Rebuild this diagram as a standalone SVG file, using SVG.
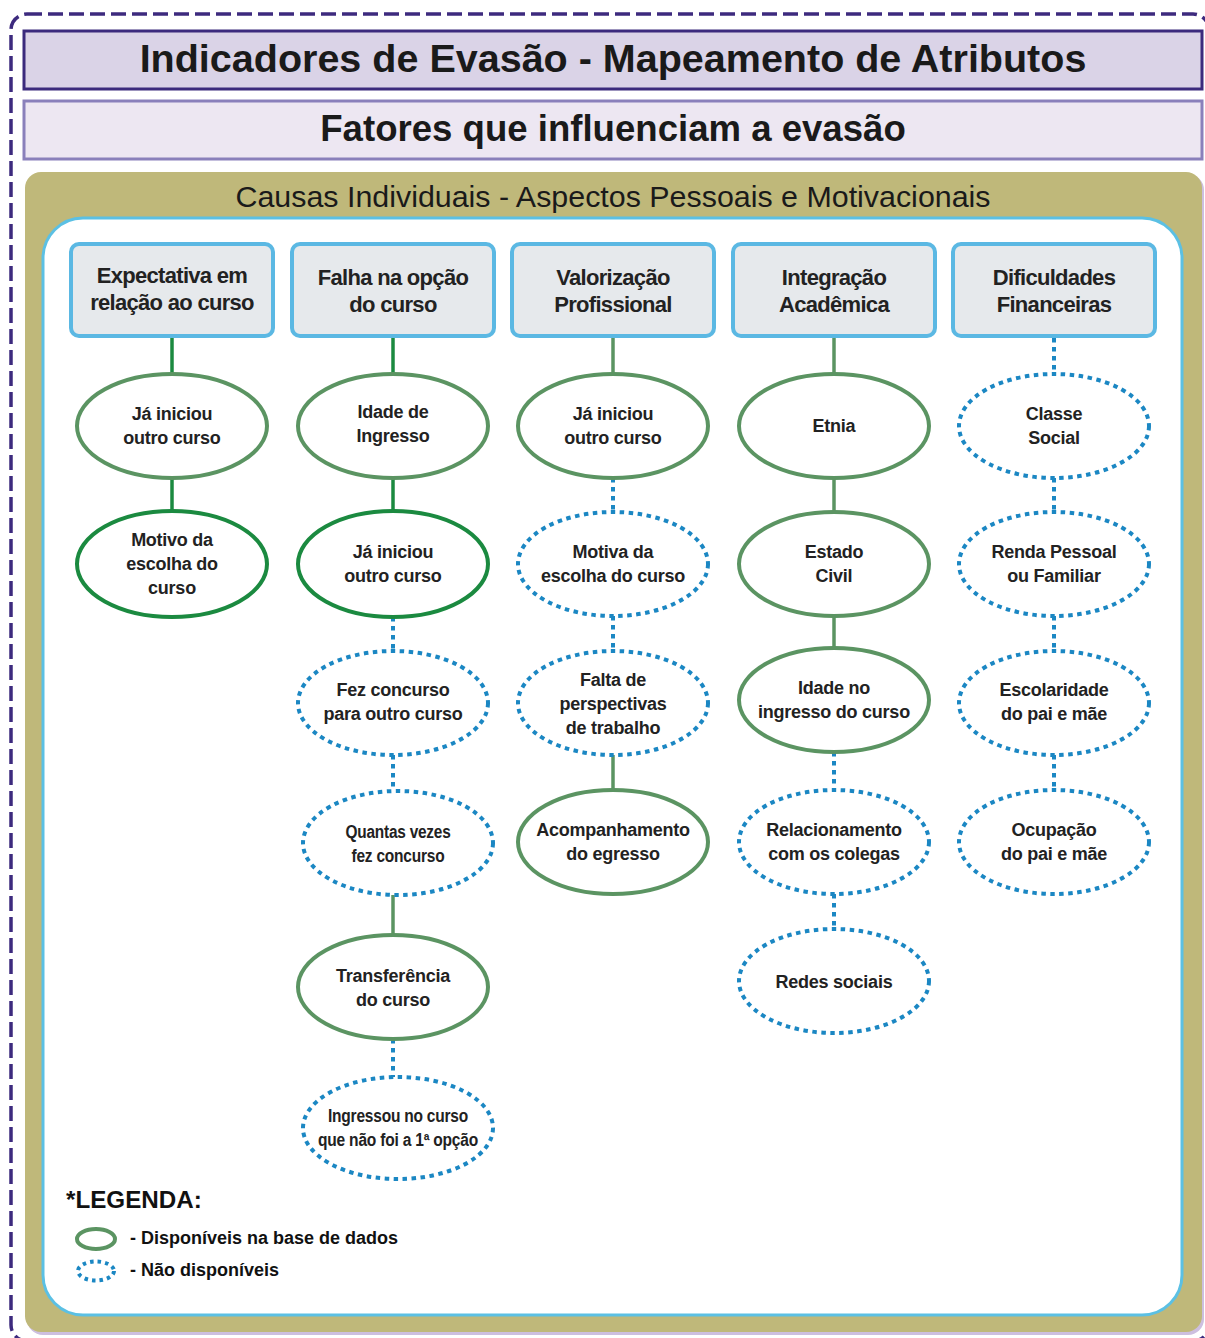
<svg xmlns="http://www.w3.org/2000/svg" width="1205" height="1338" viewBox="0 0 1205 1338">
  <defs>
    <style>
      .frame { fill: none; stroke: #3d2a7e; stroke-width: 3.5; stroke-dasharray: 15 6; }
      .title { font-family: "Liberation Sans", Arial, sans-serif; font-weight: bold; fill: #1a1a1a; text-anchor: middle; }
      .group-title { font-family: "Liberation Sans", Arial, sans-serif; fill: #1a1a1a; text-anchor: middle; font-size: 30.4px; }
      .head rect { fill: #e6e9ec; stroke: #5bb8e3; stroke-width: 4; }
      .head text { font-family: "Liberation Sans", Arial, sans-serif; font-weight: bold; font-size: 22px; letter-spacing: -0.7px; fill: #222; text-anchor: middle; dominant-baseline: central; }
      .node text { font-family: "Liberation Sans", Arial, sans-serif; font-weight: bold; font-size: 18px; letter-spacing: -0.25px; fill: #222; text-anchor: middle; dominant-baseline: central; }
      .node ellipse { fill: #ffffff; }
      .avail ellipse { stroke: #5b9462; stroke-width: 4; }
      .avail.strong ellipse { stroke: #1b8a40; }
      .missing ellipse { stroke: #1b87c3; stroke-width: 4; stroke-dasharray: 4.5 4.5; }
      .solid { stroke: #5b9462; stroke-width: 3.5; }
      .solid.strong { stroke: #1b8a40; }
      .dotted { stroke: #1b87c3; stroke-width: 4; stroke-dasharray: 4.5 4.5; }
      .legend { font-family: "Liberation Sans", Arial, sans-serif; font-weight: bold; fill: #111; }
    </style>
  </defs>

  <!-- outer dashed frame (right and bottom edges run past the canvas) -->
  <rect class="frame" x="11" y="14" width="1198" height="1327" rx="16"/>

  <!-- header bands -->
  <g id="title">
    <rect x="24" y="31" width="1178" height="58" fill="#dad3e7" stroke="#3b2a7d" stroke-width="3"/>
    <text class="title" x="613" y="72" font-size="39.5">Indicadores de Evasão - Mapeamento de Atributos</text>
  </g>
  <g id="subtitle">
    <rect x="24" y="101" width="1178" height="58" fill="#ede7f2" stroke="#8a80bb" stroke-width="3"/>
    <text class="title" x="613" y="141" font-size="36.6">Fatores que influenciam a evasão</text>
  </g>

  <!-- group container -->
  <g id="group">
    <rect x="27" y="174" width="1177" height="1161" rx="16" fill="#cdbfe0"/>
    <rect x="25" y="172" width="1177" height="1160" rx="16" fill="#bfb87a"/>
    <text class="group-title" x="613" y="207">Causas Individuais - Aspectos Pessoais e Motivacionais</text>
    <rect x="43" y="218" width="1139" height="1097" rx="40" fill="#ffffff" stroke="#5bc0e4" stroke-width="3"/>
  </g>

  <!-- connectors -->
  <g id="connectors">
    <!-- column 1 -->
    <line class="solid strong" x1="172" y1="338" x2="172" y2="374"/>
    <line class="solid strong" x1="172" y1="478" x2="172" y2="511"/>
    <!-- column 2 -->
    <line class="solid strong" x1="393" y1="338" x2="393" y2="374"/>
    <line class="solid strong" x1="393" y1="478" x2="393" y2="511"/>
    <line class="dotted" x1="393" y1="617" x2="393" y2="651"/>
    <line class="dotted" x1="393" y1="755" x2="393" y2="791"/>
    <line class="solid" x1="393" y1="895" x2="393" y2="935"/>
    <line class="dotted" x1="393" y1="1039" x2="393" y2="1077"/>
    <!-- column 3 -->
    <line class="solid" x1="613" y1="338" x2="613" y2="374"/>
    <line class="dotted" x1="613" y1="478" x2="613" y2="512"/>
    <line class="dotted" x1="613" y1="616" x2="613" y2="651"/>
    <line class="solid" x1="613" y1="755" x2="613" y2="790"/>
    <!-- column 4 -->
    <line class="solid" x1="834" y1="338" x2="834" y2="374"/>
    <line class="solid" x1="834" y1="478" x2="834" y2="512"/>
    <line class="solid" x1="834" y1="616" x2="834" y2="648"/>
    <line class="dotted" x1="834" y1="752" x2="834" y2="790"/>
    <line class="dotted" x1="834" y1="894" x2="834" y2="929"/>
    <!-- column 5 -->
    <line class="dotted" x1="1054" y1="338" x2="1054" y2="374"/>
    <line class="dotted" x1="1054" y1="478" x2="1054" y2="512"/>
    <line class="dotted" x1="1054" y1="616" x2="1054" y2="651"/>
    <line class="dotted" x1="1054" y1="755" x2="1054" y2="790"/>
  </g>

  <!-- category headers -->
  <g id="h-expectativa" class="head">
    <rect x="71" y="244" width="202" height="92" rx="8"/>
    <text x="172" y="275">Expectativa em</text>
    <text x="172" y="302">relação ao curso</text>
  </g>
  <g id="h-falha" class="head">
    <rect x="292" y="244" width="202" height="92" rx="8"/>
    <text x="393" y="277">Falha na opção</text>
    <text x="393" y="304">do curso</text>
  </g>
  <g id="h-valorizacao" class="head">
    <rect x="512" y="244" width="202" height="92" rx="8"/>
    <text x="613" y="277">Valorização</text>
    <text x="613" y="304">Profissional</text>
  </g>
  <g id="h-integracao" class="head">
    <rect x="733" y="244" width="202" height="92" rx="8"/>
    <text x="834" y="277">Integração</text>
    <text x="834" y="304">Acadêmica</text>
  </g>
  <g id="h-dificuldades" class="head">
    <rect x="953" y="244" width="202" height="92" rx="8"/>
    <text x="1054" y="277">Dificuldades</text>
    <text x="1054" y="304">Financeiras</text>
  </g>

  <!-- column 1 -->
  <g id="c1-ja-iniciou" class="node avail">
    <ellipse cx="172" cy="426" rx="95" ry="52"/>
    <text x="172" y="414">Já iniciou</text>
    <text x="172" y="438">outro curso</text>
  </g>
  <g id="c1-motivo" class="node avail strong">
    <ellipse cx="172" cy="564" rx="95" ry="53"/>
    <text x="172" y="540">Motivo da</text>
    <text x="172" y="564">escolha do</text>
    <text x="172" y="588">curso</text>
  </g>

  <!-- column 2 -->
  <g id="c2-idade" class="node avail">
    <ellipse cx="393" cy="426" rx="95" ry="52"/>
    <text x="393" y="412">Idade de</text>
    <text x="393" y="436">Ingresso</text>
  </g>
  <g id="c2-ja-iniciou" class="node avail strong">
    <ellipse cx="393" cy="564" rx="95" ry="53"/>
    <text x="393" y="552">Já iniciou</text>
    <text x="393" y="576">outro curso</text>
  </g>
  <g id="c2-fez-concurso" class="node missing">
    <ellipse cx="393" cy="703" rx="95" ry="52"/>
    <text x="393" y="690">Fez concurso</text>
    <text x="393" y="714">para outro curso</text>
  </g>
  <g id="c2-quantas-vezes" class="node missing">
    <ellipse cx="398" cy="843" rx="95" ry="52"/>
    <text x="398" y="832" textLength="105" lengthAdjust="spacingAndGlyphs">Quantas vezes</text>
    <text x="398" y="856" textLength="93" lengthAdjust="spacingAndGlyphs">fez concurso</text>
  </g>
  <g id="c2-transferencia" class="node avail">
    <ellipse cx="393" cy="987" rx="95" ry="52"/>
    <text x="393" y="976">Transferência</text>
    <text x="393" y="1000">do curso</text>
  </g>
  <g id="c2-ingressou" class="node missing">
    <ellipse cx="398" cy="1128" rx="95" ry="51"/>
    <text x="398" y="1116" textLength="140" lengthAdjust="spacingAndGlyphs">Ingressou no curso</text>
    <text x="398" y="1140" textLength="160" lengthAdjust="spacingAndGlyphs">que não foi a 1ª opção</text>
  </g>

  <!-- column 3 -->
  <g id="c3-ja-iniciou" class="node avail">
    <ellipse cx="613" cy="426" rx="95" ry="52"/>
    <text x="613" y="414">Já iniciou</text>
    <text x="613" y="438">outro curso</text>
  </g>
  <g id="c3-motiva" class="node missing">
    <ellipse cx="613" cy="564" rx="95" ry="52"/>
    <text x="613" y="552">Motiva da</text>
    <text x="613" y="576">escolha do curso</text>
  </g>
  <g id="c3-falta" class="node missing">
    <ellipse cx="613" cy="703" rx="95" ry="52"/>
    <text x="613" y="680">Falta de</text>
    <text x="613" y="704">perspectivas</text>
    <text x="613" y="728">de trabalho</text>
  </g>
  <g id="c3-acompanhamento" class="node avail">
    <ellipse cx="613" cy="842" rx="95" ry="52"/>
    <text x="613" y="830">Acompanhamento</text>
    <text x="613" y="854">do egresso</text>
  </g>

  <!-- column 4 -->
  <g id="c4-etnia" class="node avail">
    <ellipse cx="834" cy="426" rx="95" ry="52"/>
    <text x="834" y="426">Etnia</text>
  </g>
  <g id="c4-estado-civil" class="node avail">
    <ellipse cx="834" cy="564" rx="95" ry="52"/>
    <text x="834" y="552">Estado</text>
    <text x="834" y="576">Civil</text>
  </g>
  <g id="c4-idade-no" class="node avail">
    <ellipse cx="834" cy="700" rx="95" ry="52"/>
    <text x="834" y="688">Idade no</text>
    <text x="834" y="712">ingresso do curso</text>
  </g>
  <g id="c4-relacionamento" class="node missing">
    <ellipse cx="834" cy="842" rx="95" ry="52"/>
    <text x="834" y="830">Relacionamento</text>
    <text x="834" y="854">com os colegas</text>
  </g>
  <g id="c4-redes" class="node missing">
    <ellipse cx="834" cy="981" rx="95" ry="52"/>
    <text x="834" y="982">Redes sociais</text>
  </g>

  <!-- column 5 -->
  <g id="c5-classe" class="node missing">
    <ellipse cx="1054" cy="426" rx="95" ry="52"/>
    <text x="1054" y="414">Classe</text>
    <text x="1054" y="438">Social</text>
  </g>
  <g id="c5-renda" class="node missing">
    <ellipse cx="1054" cy="564" rx="95" ry="52"/>
    <text x="1054" y="552">Renda Pessoal</text>
    <text x="1054" y="576">ou Familiar</text>
  </g>
  <g id="c5-escolaridade" class="node missing">
    <ellipse cx="1054" cy="703" rx="95" ry="52"/>
    <text x="1054" y="690">Escolaridade</text>
    <text x="1054" y="714">do pai e mãe</text>
  </g>
  <g id="c5-ocupacao" class="node missing">
    <ellipse cx="1054" cy="842" rx="95" ry="52"/>
    <text x="1054" y="830">Ocupação</text>
    <text x="1054" y="854">do pai e mãe</text>
  </g>

  <!-- legend -->
  <g id="legend">
    <text class="legend" x="66" y="1208" font-size="24.2">*LEGENDA:</text>
    <ellipse cx="96" cy="1239" rx="19" ry="10" fill="none" stroke="#5b9462" stroke-width="4"/>
    <text class="legend" x="130" y="1244" font-size="18">- Disponíveis na base de dados</text>
    <ellipse cx="96" cy="1271" rx="18" ry="9.5" fill="none" stroke="#1b87c3" stroke-width="4" stroke-dasharray="3.5 4"/>
    <text class="legend" x="130" y="1276" font-size="18">- Não disponíveis</text>
  </g>
</svg>
